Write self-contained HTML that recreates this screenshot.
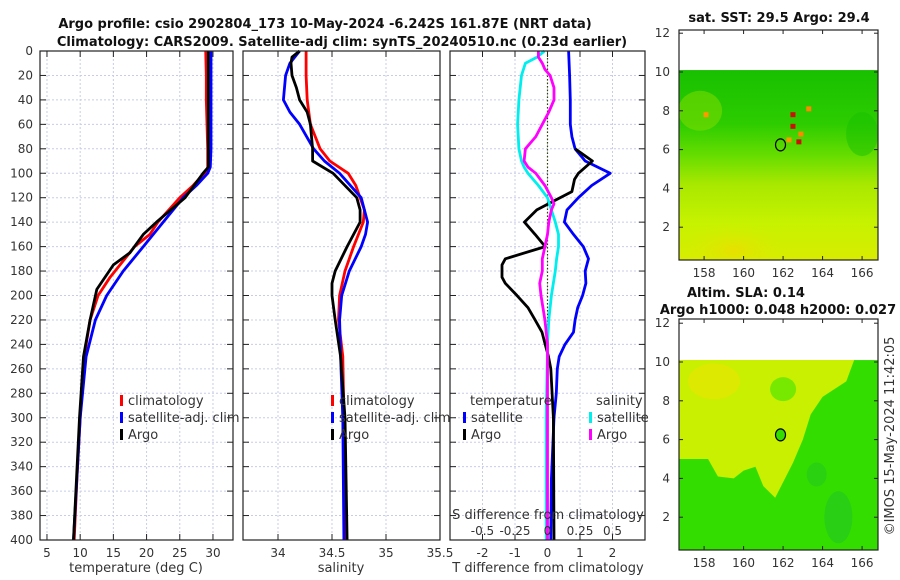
<!DOCTYPE html>
<html><head><meta charset="utf-8">
<style>
body{margin:0;background:#fff;}
svg{display:block;font-family:"DejaVu Sans","Liberation Sans",sans-serif;}
.t{font-size:12px;fill:#333;}
.b{font-size:13px;font-weight:bold;fill:#111;}
</style></head>
<body>
<svg id="chart" width="900" height="580" viewBox="0 0 900 580" xmlns="http://www.w3.org/2000/svg">
<defs>
<linearGradient id="sstGrad" x1="0" y1="0" x2="0" y2="1">
<stop offset="0" stop-color="#18c000"/><stop offset="0.28" stop-color="#2ccc00"/>
<stop offset="0.45" stop-color="#66dd00"/><stop offset="0.6" stop-color="#a8e800"/>
<stop offset="0.8" stop-color="#c6f200"/><stop offset="1" stop-color="#d8ec00"/>
</linearGradient>
<radialGradient id="orangeBlob"><stop offset="0" stop-color="#e8e000"/><stop offset="1" stop-color="#d0f000" stop-opacity="0"/></radialGradient>
<clipPath id="clipTop"><rect x="679" y="30" width="199" height="230"/></clipPath>
<clipPath id="clipBot"><rect x="679" y="319" width="199" height="231"/></clipPath>
</defs>
<text class="b" x="325" y="28" text-anchor="middle">Argo profile: csio 2902804_173 10-May-2024 -6.242S 161.87E (NRT data)</text>
<text class="b" x="342" y="46" text-anchor="middle">Climatology: CARS2009. Satellite-adj clim: synTS_20240510.nc (0.23d earlier)</text>
<g id="g"></g>
</svg>
<script>
// ---- data ----
const tClimDepth=[0,20,40,60,80,97,110,120,140,150,160,175,185,200,220,250,300,350,400];
const tClim=[28.9,29.0,29.0,29.1,29.2,29.2,27.0,25.0,21.7,20.5,18.2,16.0,14.5,12.7,11.5,10.6,10.0,9.5,9.1];
const tSatDepth=[0,20,40,60,80,95,100,110,120,140,160,180,200,220,250,300,400];
const tSat=[29.7,29.7,29.7,29.7,29.7,29.6,29.2,27.5,25.5,22.5,19.5,16.5,14.0,12.3,10.9,10.0,9.0];
const tArgoDepth=[0,20,40,60,80,95,100,120,140,150,165,175,195,220,250,300,400];
const tArgo=[29.3,29.3,29.3,29.3,29.3,29.3,28.5,25.8,21.5,19.5,17.5,15.0,12.5,11.5,10.5,9.9,9.0];

const sClimDepth=[0,20,40,60,80,90,100,110,120,130,140,160,180,200,220,250,300,400];
const sClim=[34.26,34.26,34.27,34.30,34.39,34.48,34.65,34.72,34.76,34.80,34.79,34.70,34.62,34.57,34.56,34.60,34.61,34.62];
const sSatDepth=[0,10,20,40,50,60,80,90,100,120,140,150,160,180,200,220,250,300,400];
const sSat=[34.20,34.11,34.07,34.05,34.11,34.20,34.33,34.43,34.57,34.77,34.83,34.81,34.77,34.66,34.59,34.57,34.58,34.60,34.61];
const sArgoDepth=[0,5,10,20,30,40,50,60,80,90,100,120,130,140,160,180,190,200,220,250,300,400];
const sArgo=[34.20,34.13,34.12,34.13,34.17,34.20,34.27,34.30,34.32,34.32,34.51,34.73,34.76,34.76,34.64,34.53,34.50,34.50,34.53,34.58,34.62,34.64];

const dTSatDepth=[0,20,40,60,70,80,90,100,110,120,130,140,150,160,170,180,190,200,210,220,230,240,250,260,280,300,350,400];
const dTSat=[0.65,0.68,0.70,0.70,0.75,0.85,1.16,1.93,1.36,0.95,0.60,0.52,0.80,1.10,1.26,1.16,1.18,1.08,0.93,0.85,0.80,0.54,0.36,0.30,0.27,0.20,0.12,0.10];
const dTArgoDepth=[80,90,100,105,115,125,130,140,150,160,170,175,185,190,200,210,220,230,240,250,260,300,400];
const dTArgo=[0.85,1.38,0.95,0.83,0.75,0.03,-0.33,-0.71,-0.38,-0.07,-1.30,-1.40,-1.40,-1.30,-0.94,-0.60,-0.38,-0.17,-0.07,0.03,0.10,0.18,0.20];
const dSSatDepth=[0,5,10,20,40,60,80,90,95,100,110,120,130,140,150,160,170,180,200,220,240,300,400];
const dSSat=[-0.023,-0.08,-0.17,-0.20,-0.22,-0.23,-0.22,-0.20,-0.18,-0.15,-0.07,0.0,0.03,0.06,0.085,0.085,0.07,0.06,0.03,0.01,0.0,-0.01,-0.01];
const dSArgoDepth=[0,5,10,15,20,30,40,50,60,70,80,90,95,100,110,120,125,130,140,150,160,170,180,190,200,220,240,300,400];
const dSArgo=[-0.07,-0.07,-0.04,-0.02,0.02,0.05,0.05,0.01,-0.04,-0.09,-0.17,-0.18,-0.15,-0.09,-0.02,0.03,0.05,0.03,0.01,0.0,-0.02,-0.04,-0.04,-0.06,-0.05,-0.02,0.0,0.0,0.0];

const depthTicks=[0,20,40,60,80,100,120,140,160,180,200,220,240,260,280,300,320,340,360,380,400];
const tTicks=[5,10,15,20,25,30];
const sTicks=[34,34.5,35,35.5];
const sTickLabels=["34","34.5","35","35.5"];
const dTTicks=[-2,-1,0,1,2];
const dSTicks=[-0.5,-0.25,0,0.25,0.5];
const dSTickLabels=["-0.5","-0.25","0","0.25","0.5"];
const lonTicks=[158,160,162,164,166];
const latTicks=[2,4,6,8,10,12];
const floatLon=161.87, floatLat=6.242;

// ---- scales ----
const yP=p=>51+p*1.2225;
const x1=t=>40+(t-3.95)*6.64;
const x2=s=>243+(s-33.676)*108;
const x3=d=>547.5+d*32.5;
const xS=s=>x3(s*4);
const mx=lon=>679+(lon-156.73)*19.75;
const myTop=lat=>72-(lat-10)*19.4;
const myBot=lat=>362-(lat-10)*19.4;

const NS="http://www.w3.org/2000/svg";
const G=document.getElementById('g');
function el(tag,attrs,parent){const e=document.createElementNS(NS,tag);for(const k in attrs)e.setAttribute(k,attrs[k]);(parent||G).appendChild(e);return e;}
function txt(x,y,s,anchor,cls,parent){const e=el('text',{x:x,y:y,'text-anchor':anchor||'middle','class':cls||'t'},parent);e.textContent=s;return e;}

function panel(name,L,R,xTicks,xs,xLabels,showY){
  const g=el('g',{});
  
  
  el('rect',{x:L,y:51,width:R-L,height:489,fill:'#fff'},g);
  depthTicks.forEach(p=>{
    const gl=el('line',{x1:L,x2:R,y1:yP(p),y2:yP(p),stroke:'#c8cce8','stroke-dasharray':'2,2','stroke-width':1},g);
    
    
    el('line',{x1:L,x2:L+6,y1:yP(p),y2:yP(p),stroke:'#222'},g);
    el('line',{x1:R-6,x2:R,y1:yP(p),y2:yP(p),stroke:'#222'},g);
    if(showY){const t=txt(L-7,yP(p)+4,String(p),'end','t',g);}
  });
  xTicks.forEach((v,i)=>{
    const X=xs(v);
    el('line',{x1:X,x2:X,y1:51,y2:540,stroke:'#c8cce8','stroke-dasharray':'2,2'},g);
    el('line',{x1:X,x2:X,y1:540,y2:534,stroke:'#222'},g);
    el('line',{x1:X,x2:X,y1:51,y2:57,stroke:'#222'},g);
    const t=txt(X,557,xLabels[i],'middle','t',g);
    
    
  });
  return g;
}
function series(g,name,vals,depths,xs,color){
  const pts=vals.map((v,i)=>xs(v).toFixed(1)+','+yP(depths[i]).toFixed(1)).join(' ');
  const p=el('polyline',{points:pts,fill:'none',stroke:color,'stroke-width':2.8,'stroke-linejoin':'round'},g);
  
  
}
function frame(g,L,R){el('rect',{x:L,y:51,width:R-L,height:489,fill:'none',stroke:'#222','stroke-width':1.2},g);}
function legItem(g,x,y,color,label,name){
  const m=el('rect',{x:x,y:y-10,width:3,height:11,fill:color},g);
  
  
  const t=txt(x+8,y,label,'start','t',g);
  t.style.fontSize='13px';
  
  
}

// Panel 1
const p1=panel('temperature-panel',40,233,tTicks,x1,tTicks.map(String),true);
series(p1,'temperature-climatology-line',tClim,tClimDepth,x1,'#ff0000');
series(p1,'temperature-satellite-line',tSat,tSatDepth,x1,'#0000ff');
series(p1,'temperature-argo-line',tArgo,tArgoDepth,x1,'#000000');
frame(p1,40,233);
legItem(p1,120,405,'#ff0000','climatology','legend-climatology');
legItem(p1,120,422,'#0000ff','satellite-adj. clim','legend-satellite');
legItem(p1,120,439,'#000000','Argo','legend-argo');
txt(136,572,'temperature (deg C)','middle','t',p1).style.fontSize='13px';

// Panel 2
const p2=panel('salinity-panel',243,440,sTicks,x2,sTickLabels,false);
series(p2,'salinity-climatology-line',sClim,sClimDepth,x2,'#ff0000');
series(p2,'salinity-satellite-line',sSat,sSatDepth,x2,'#0000ff');
series(p2,'salinity-argo-line',sArgo,sArgoDepth,x2,'#000000');
frame(p2,243,440);
legItem(p2,331,405,'#ff0000','climatology','legend-climatology-2');
legItem(p2,331,422,'#0000ff','satellite-adj. clim','legend-satellite-2');
legItem(p2,331,439,'#000000','Argo','legend-argo-2');
txt(341,572,'salinity','middle','t',p2).style.fontSize='13px';

// Panel 3
const p3=panel('difference-panel',450,645,dTTicks,x3,dTTicks.map(String),false);
el('line',{x1:x3(0),x2:x3(0),y1:51,y2:540,stroke:'#334400','stroke-dasharray':'1.5,2','stroke-width':1.2},p3);
series(p3,'t-diff-satellite-line',dTSat,dTSatDepth,x3,'#0000ff');
series(p3,'t-diff-argo-line',dTArgo,dTArgoDepth,x3,'#000000');
series(p3,'s-diff-satellite-line',dSSat,dSSatDepth,xS,'#00eeee');
series(p3,'s-diff-argo-line',dSArgo,dSArgoDepth,xS,'#ff00ff');
frame(p3,450,645);
let tl=txt(470,405,'temperature','start','t',p3);tl.style.fontSize='13px';
tl=txt(596,405,'salinity','start','t',p3);tl.style.fontSize='13px';
legItem(p3,463,422,'#0000ff','satellite','legend-t-satellite');
legItem(p3,463,439,'#000000','Argo','legend-t-argo');
legItem(p3,589,422,'#00eeee','satellite','legend-s-satellite');
legItem(p3,589,439,'#ff00ff','Argo','legend-s-argo');
let sd=txt(548,519,'S difference from climatology','middle','t',p3);sd.style.fontSize='13px';


dSTicks.forEach((v,i)=>{const t=txt(xS(v),535,dSTickLabels[i],'middle','t',p3);});
let td=txt(548,572,'T difference from climatology','middle','t',p3);td.style.fontSize='13px';



// Maps
function mapAxes(g,my,top,bot){
  el('rect',{x:679,y:top,width:199,height:bot-top,fill:'none',stroke:'#222','stroke-width':1.2},g);
  lonTicks.forEach(v=>{
    el('line',{x1:mx(v),x2:mx(v),y1:bot,y2:bot-4,stroke:'#222'},g);
    el('line',{x1:mx(v),x2:mx(v),y1:top,y2:top+4,stroke:'#222'},g);
    const t=txt(mx(v),bot+17,String(v),'middle','t',g);
    
  });
  latTicks.forEach(v=>{
    el('line',{x1:679,x2:683,y1:my(v),y2:my(v),stroke:'#222'},g);
    el('line',{x1:874,x2:878,y1:my(v),y2:my(v),stroke:'#222'},g);
    const t=txt(670,my(v)+4,String(v),'end','t',g);
    
  });
}
const m1=el('g',{});


const m1c=el('g',{'clip-path':'url(#clipTop)'},m1);
el('rect',{x:679,y:myTop(10.1),width:199,height:260-myTop(10.1),fill:'url(#sstGrad)'},m1c);
el('ellipse',{cx:mx(159.5),cy:myTop(0.8),rx:55,ry:28,fill:'url(#orangeBlob)'},m1c);
el('ellipse',{cx:mx(157.8),cy:myTop(8),rx:22,ry:20,fill:'#88dd00',opacity:0.5},m1c);
el('ellipse',{cx:mx(166),cy:myTop(6.8),rx:16,ry:22,fill:'#18c000',opacity:0.5},m1c);
[[162.5,7.8,'#cc1100'],[162.5,7.2,'#cc1100'],[162.8,6.4,'#cc1100'],[163.3,8.1,'#ff8800'],[162.3,6.5,'#ff9900'],[158.1,7.8,'#ff9900'],[162.9,6.8,'#ff8800']].forEach(c=>{
  el('rect',{x:mx(c[0])-2.5,y:myTop(c[1])-2.5,width:5,height:5,fill:c[2]},m1c);
});
const c1=el('ellipse',{cx:mx(floatLon),cy:myTop(floatLat),rx:5,ry:6,fill:'none',stroke:'#000','stroke-width':1.2},m1);


mapAxes(m1,myTop,30,260);
txt(779,22,'sat. SST: 29.5 Argo: 29.4','middle','b',m1);

const m2=el('g',{});


const m2c=el('g',{'clip-path':'url(#clipBot)'},m2);
el('rect',{x:679,y:myBot(10.1),width:199,height:550-myBot(10.1),fill:'#33dd00'},m2c);
const yellow=[[156.73,10.1],[165.6,10.1],[165.2,9],[164,8.2],[163.4,7.3],[163,6],[162.5,4.8],[162,3.8],[161.6,3],[161,3.6],[160.6,4.6],[160,4.4],[159.5,4],[158.7,4.1],[158.2,5],[156.73,5]];
el('polygon',{points:yellow.map(p=>mx(p[0])+','+myBot(p[1])).join(' '),fill:'#c8f000'},m2c);
el('ellipse',{cx:mx(158.5),cy:myBot(9),rx:26,ry:18,fill:'#e6e600',opacity:0.7},m2c);
el('ellipse',{cx:mx(162),cy:myBot(8.6),rx:13,ry:12,fill:'#77e800'},m2c);
el('ellipse',{cx:mx(164.8),cy:myBot(2),rx:14,ry:26,fill:'#22c622',opacity:0.6},m2c);
el('ellipse',{cx:mx(163.7),cy:myBot(4.2),rx:10,ry:12,fill:'#22c622',opacity:0.5},m2c);
const c2=el('ellipse',{cx:mx(floatLon),cy:myBot(floatLat),rx:5,ry:6,fill:'#33dd00',stroke:'#000','stroke-width':1.2},m2);


mapAxes(m2,myBot,319,550);
txt(687,297,'Altim. SLA: 0.14','start','b',m2);
txt(778,314,'Argo h1000: 0.048 h2000: 0.027','middle','b',m2);
const cr=txt(0,0,'©IMOS 15-May-2024 11:42:05','middle','t',m2);
cr.setAttribute('transform','translate(894,436) rotate(-90)');
cr.style.fontSize='13px';


</script>
</body></html>
